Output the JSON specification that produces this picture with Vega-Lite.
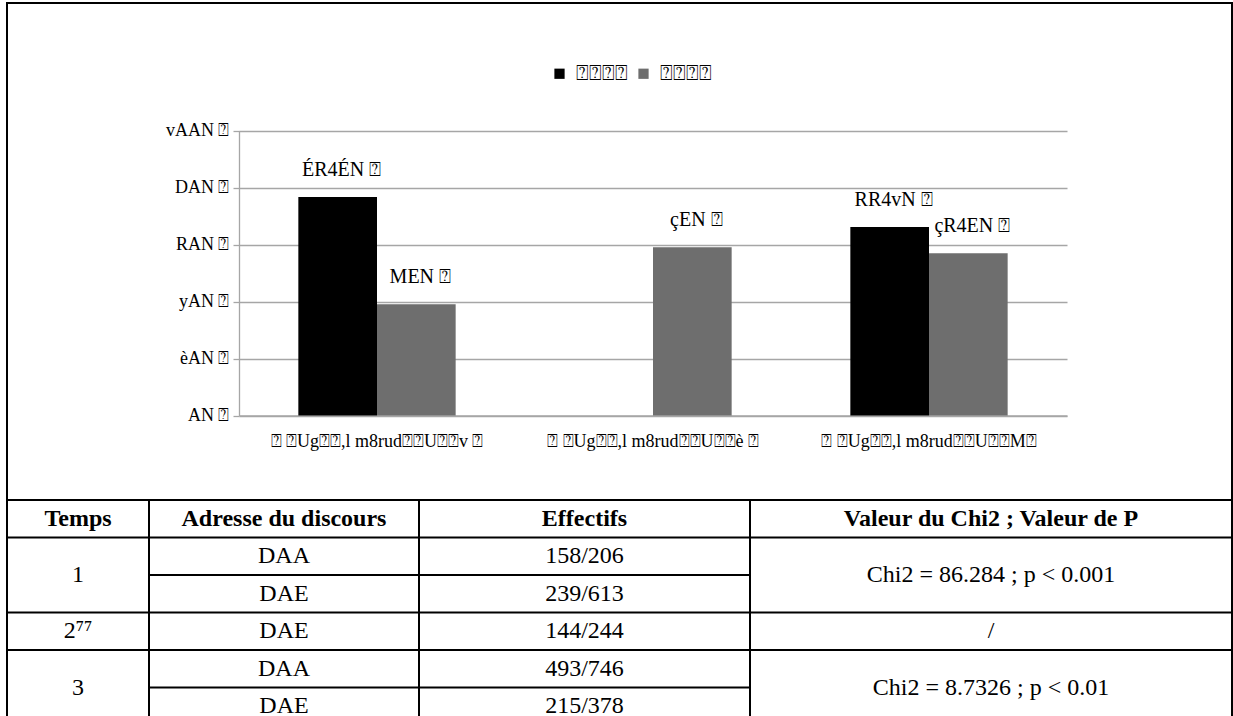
{
  "$schema": "https://vega.github.io/schema/vega-lite/v6.json",
  "padding": {"left": 5, "top": 2, "right": 2, "bottom": 0},
  "background": "white",
  "spacing": 0,
  "bounds": "flush",
  "config": {
    "font": "Liberation Serif",
    "view": {"stroke": "black", "strokeWidth": 2},
    "concat": {"spacing": 0},
    "text": {"font": "Liberation Serif", "color": "black"}
  },
  "datasets": {
    "bars": [
      {"temps": "⍰ ⍰Ug⍰⍰,l m8rud⍰⍰U⍰⍰v ⍰", "serie": "DAA", "pct": 76.7, "label": "ÉR4ÉN ⍰"},
      {"temps": "⍰ ⍰Ug⍰⍰,l m8rud⍰⍰U⍰⍰v ⍰", "serie": "DAE", "pct": 39.0, "label": "MEN ⍰"},
      {"temps": "⍰ ⍰Ug⍰⍰,l m8rud⍰⍰U⍰⍰è ⍰", "serie": "DAE", "pct": 59.0, "label": "çEN ⍰"},
      {"temps": "⍰ ⍰Ug⍰⍰,l m8rud⍰⍰U⍰⍰M⍰", "serie": "DAA", "pct": 66.1, "label": "RR4vN ⍰"},
      {"temps": "⍰ ⍰Ug⍰⍰,l m8rud⍰⍰U⍰⍰M⍰", "serie": "DAE", "pct": 56.9, "label": "çR4EN ⍰"}
    ],
    "cells": [
      {"c": 1, "r": "h", "t": "Temps", "m": 0},
      {"c": 1, "r": "r1a", "t": "1", "m": 1},
      {"c": 1, "r": "r2", "t": "2⁷⁷", "m": 0},
      {"c": 1, "r": "r3a", "t": "3", "m": 1},
      {"c": 2, "r": "h", "t": "Adresse du discours", "m": 0},
      {"c": 2, "r": "r1a", "t": "DAA", "m": 0},
      {"c": 2, "r": "r1b", "t": "DAE", "m": 0},
      {"c": 2, "r": "r2", "t": "DAE", "m": 0},
      {"c": 2, "r": "r3a", "t": "DAA", "m": 0},
      {"c": 2, "r": "r3b", "t": "DAE", "m": 0},
      {"c": 3, "r": "h", "t": "Effectifs", "m": 0},
      {"c": 3, "r": "r1a", "t": "158/206", "m": 0},
      {"c": 3, "r": "r1b", "t": "239/613", "m": 0},
      {"c": 3, "r": "r2", "t": "144/244", "m": 0},
      {"c": 3, "r": "r3a", "t": "493/746", "m": 0},
      {"c": 3, "r": "r3b", "t": "215/378", "m": 0},
      {"c": 4, "r": "h", "t": "Valeur du Chi2 ; Valeur de P", "m": 0},
      {"c": 4, "r": "r1a", "t": "Chi2 = 86.284 ; p < 0.001", "m": 1},
      {"c": 4, "r": "r2", "t": "/", "m": 0},
      {"c": 4, "r": "r3a", "t": "Chi2 = 8.7326 ; p < 0.01", "m": 1}
    ],
    "lines": [
      {"c": 1, "r": "r1a"}, {"c": 1, "r": "r2"}, {"c": 1, "r": "r3a"},
      {"c": 2, "r": "r1a"}, {"c": 2, "r": "r1b"}, {"c": 2, "r": "r2"}, {"c": 2, "r": "r3a"}, {"c": 2, "r": "r3b"},
      {"c": 3, "r": "r1a"}, {"c": 3, "r": "r1b"}, {"c": 3, "r": "r2"}, {"c": 3, "r": "r3a"}, {"c": 3, "r": "r3b"},
      {"c": 4, "r": "r1a"}, {"c": 4, "r": "r2"}, {"c": 4, "r": "r3a"}
    ]
  },
  "vconcat": [
    {
      "width": 1225,
      "height": 497,
      "data": {"name": "bars"},
      "encoding": {
        "x": {
          "field": "temps", "type": "nominal", "sort": null,
          "scale": {"range": [232, 1060], "paddingInner": 0.43, "paddingOuter": 0.215},
          "axis": {"title": null, "offset": -84.5, "labelAngle": 0, "ticks": false, "domainColor": "#a6a6a6", "domainWidth": 1.3, "labelFont": "Liberation Serif", "labelFontSize": 18, "labelColor": "black", "labelPadding": 17, "labelLimit": 0, "grid": false}
        },
        "xOffset": {"field": "serie", "type": "nominal", "scale": {"domain": ["DAA", "DAE"], "paddingInner": 0, "paddingOuter": 0}},
        "y": {
          "field": "pct", "type": "quantitative",
          "scale": {"domain": [0, 100], "range": [412.5, 127.5], "nice": false},
          "axis": {"title": null, "offset": -232, "values": [0, 20, 40, 60, 80, 100], "grid": true, "gridColor": "#a6a6a6", "gridWidth": 1.3, "domainColor": "#a6a6a6", "domainWidth": 1.3, "tickColor": "#a6a6a6", "tickWidth": 1.3, "tickSize": 6, "labelFont": "Liberation Serif", "labelFontSize": 18, "labelColor": "black", "labelPadding": 4,
            "labelExpr": "datum.value == 100 ? 'vAAN ⍰' : datum.value == 80 ? 'DAN ⍰' : datum.value == 60 ? 'RAN ⍰' : datum.value == 40 ? 'yAN ⍰' : datum.value == 20 ? 'èAN ⍰' : 'AN ⍰'"}
        }
      },
      "layer": [
        {
          "mark": {"type": "bar"},
          "encoding": {
            "color": {
              "field": "serie", "type": "nominal",
              "scale": {"domain": ["DAA", "DAE"], "range": ["#000000", "#6e6e6e"]},
              "legend": {"title": null, "orient": "none", "legendX": 542, "legendY": 60, "direction": "horizontal", "symbolType": "square", "symbolSize": 105, "symbolStrokeWidth": 0, "labelExpr": "'⍰⍰⍰⍰'", "labelFont": "Liberation Serif", "labelFontSize": 21, "labelColor": "black", "columnPadding": 5, "labelOffset": 6}
            }
          }
        },
        {
          "mark": {"type": "text", "dy": -27, "dx": 4, "fontSize": 20, "baseline": "middle", "font": "Liberation Serif"},
          "encoding": {"text": {"field": "label"}}
        }
      ]
    },
    {
      "spacing": 0,
      "bounds": "flush",
      "hconcat": [
        {
          "width": 142, "height": 225,
          "layer": [
            {"data": {"name": "lines"}, "transform": [{"filter": "datum.c == 1"}], "mark": {"type": "rule", "color": "black", "strokeWidth": 2},
             "encoding": {"y": {"field": "r", "type": "nominal", "bandPosition": 0, "scale": {"domain": ["h", "r1a", "r1b", "r2", "r3a", "r3b"], "paddingInner": 0, "paddingOuter": 0}, "axis": null}}},
            {"data": {"name": "cells"}, "transform": [{"filter": "datum.c == 1 && datum.r == 'h'"}], "mark": {"type": "text", "font": "Liberation Serif", "fontSize": 24, "fontWeight": "bold"},
             "encoding": {"y": {"field": "r", "type": "nominal", "axis": null}, "text": {"field": "t"}}},
            {"data": {"name": "cells"}, "transform": [{"filter": "datum.c == 1 && datum.r != 'h' && datum.m == 0"}], "mark": {"type": "text", "font": "Liberation Serif", "fontSize": 24},
             "encoding": {"y": {"field": "r", "type": "nominal", "axis": null}, "text": {"field": "t"}}},
            {"data": {"name": "cells"}, "transform": [{"filter": "datum.c == 1 && datum.m == 1"}], "mark": {"type": "text", "font": "Liberation Serif", "fontSize": 24},
             "encoding": {"y": {"field": "r", "type": "nominal", "bandPosition": 1, "axis": null}, "text": {"field": "t"}}}
          ]
        },
        {
          "width": 270, "height": 225,
          "layer": [
            {"data": {"name": "lines"}, "transform": [{"filter": "datum.c == 2"}], "mark": {"type": "rule", "color": "black", "strokeWidth": 2},
             "encoding": {"y": {"field": "r", "type": "nominal", "bandPosition": 0, "scale": {"domain": ["h", "r1a", "r1b", "r2", "r3a", "r3b"], "paddingInner": 0, "paddingOuter": 0}, "axis": null}}},
            {"data": {"name": "cells"}, "transform": [{"filter": "datum.c == 2 && datum.r == 'h'"}], "mark": {"type": "text", "font": "Liberation Serif", "fontSize": 24, "fontWeight": "bold"},
             "encoding": {"y": {"field": "r", "type": "nominal", "axis": null}, "text": {"field": "t"}}},
            {"data": {"name": "cells"}, "transform": [{"filter": "datum.c == 2 && datum.r != 'h' && datum.m == 0"}], "mark": {"type": "text", "font": "Liberation Serif", "fontSize": 24},
             "encoding": {"y": {"field": "r", "type": "nominal", "axis": null}, "text": {"field": "t"}}}
          ]
        },
        {
          "width": 331, "height": 225,
          "layer": [
            {"data": {"name": "lines"}, "transform": [{"filter": "datum.c == 3"}], "mark": {"type": "rule", "color": "black", "strokeWidth": 2},
             "encoding": {"y": {"field": "r", "type": "nominal", "bandPosition": 0, "scale": {"domain": ["h", "r1a", "r1b", "r2", "r3a", "r3b"], "paddingInner": 0, "paddingOuter": 0}, "axis": null}}},
            {"data": {"name": "cells"}, "transform": [{"filter": "datum.c == 3 && datum.r == 'h'"}], "mark": {"type": "text", "font": "Liberation Serif", "fontSize": 24, "fontWeight": "bold"},
             "encoding": {"y": {"field": "r", "type": "nominal", "axis": null}, "text": {"field": "t"}}},
            {"data": {"name": "cells"}, "transform": [{"filter": "datum.c == 3 && datum.r != 'h' && datum.m == 0"}], "mark": {"type": "text", "font": "Liberation Serif", "fontSize": 24},
             "encoding": {"y": {"field": "r", "type": "nominal", "axis": null}, "text": {"field": "t"}}}
          ]
        },
        {
          "width": 482, "height": 225,
          "layer": [
            {"data": {"name": "lines"}, "transform": [{"filter": "datum.c == 4"}], "mark": {"type": "rule", "color": "black", "strokeWidth": 2},
             "encoding": {"y": {"field": "r", "type": "nominal", "bandPosition": 0, "scale": {"domain": ["h", "r1a", "r1b", "r2", "r3a", "r3b"], "paddingInner": 0, "paddingOuter": 0}, "axis": null}}},
            {"data": {"name": "cells"}, "transform": [{"filter": "datum.c == 4 && datum.r == 'h'"}], "mark": {"type": "text", "font": "Liberation Serif", "fontSize": 24, "fontWeight": "bold"},
             "encoding": {"y": {"field": "r", "type": "nominal", "axis": null}, "text": {"field": "t"}}},
            {"data": {"name": "cells"}, "transform": [{"filter": "datum.c == 4 && datum.r != 'h' && datum.m == 0"}], "mark": {"type": "text", "font": "Liberation Serif", "fontSize": 24},
             "encoding": {"y": {"field": "r", "type": "nominal", "axis": null}, "text": {"field": "t"}}},
            {"data": {"name": "cells"}, "transform": [{"filter": "datum.c == 4 && datum.m == 1"}], "mark": {"type": "text", "font": "Liberation Serif", "fontSize": 24},
             "encoding": {"y": {"field": "r", "type": "nominal", "bandPosition": 1, "axis": null}, "text": {"field": "t"}}}
          ]
        }
      ]
    }
  ]
}
